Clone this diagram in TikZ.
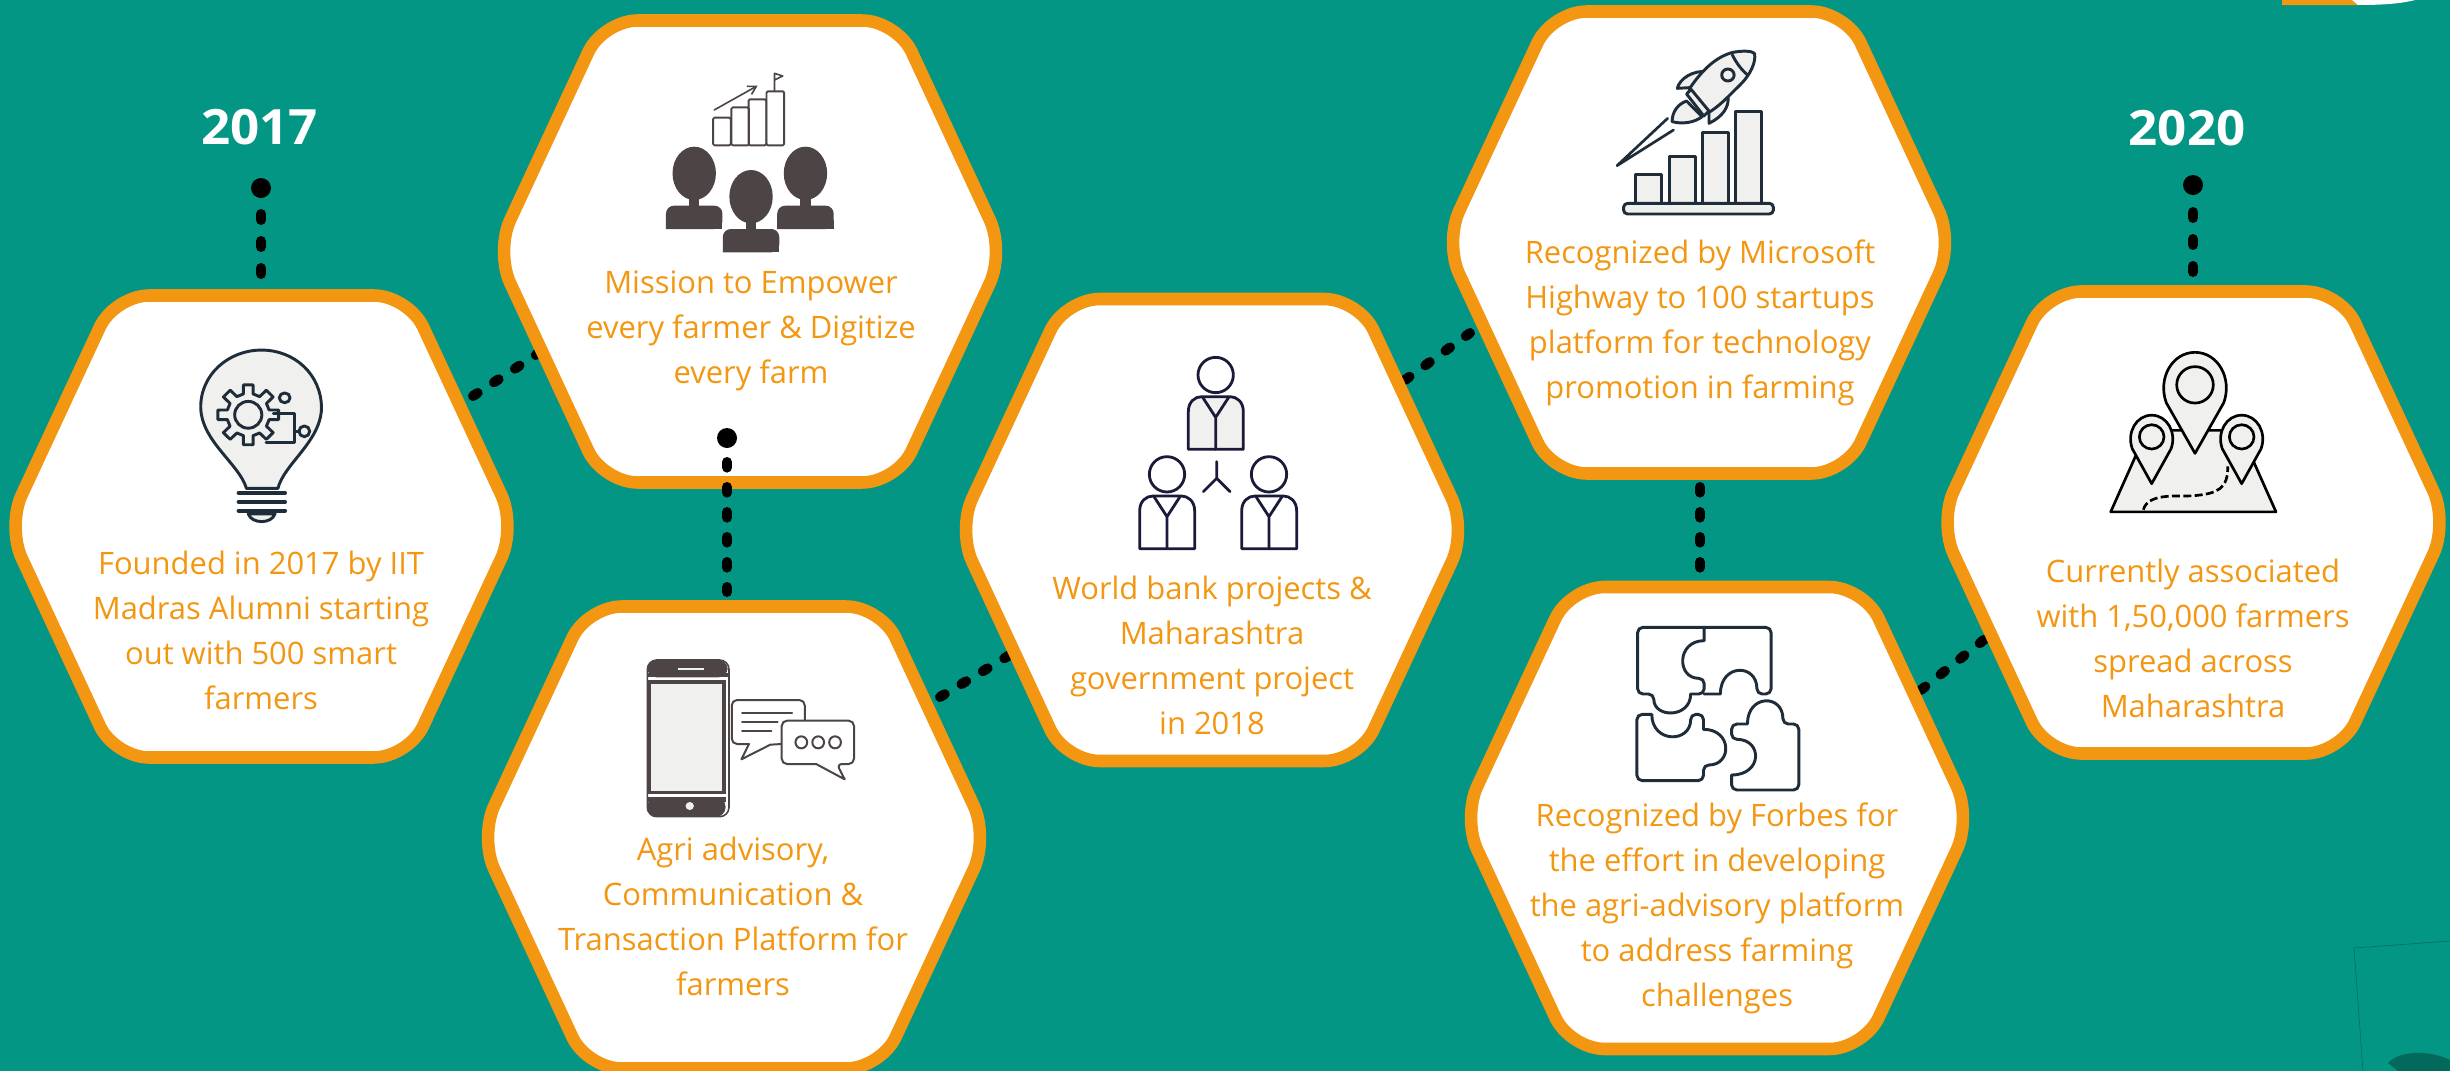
\documentclass[tikz,border=0pt]{standalone}
\usepackage{fontspec}
\usetikzlibrary{arrows.meta}
\setmainfont{Open Sans}
\definecolor{bgteal}{HTML}{039684}
\definecolor{hexor}{HTML}{F39712}
\definecolor{icgrey}{HTML}{F0F0EE}
\definecolor{icdark}{HTML}{4D4445}
\definecolor{icnavy}{HTML}{1F2D3A}
\definecolor{icblue}{HTML}{1A1A3A}
\tikzset{
  hexbox/.style={draw=hexor,fill=white,line width=9.4pt,rounded corners=26pt,line join=round},
  dashline/.style={line width=7.5pt,line cap=round,dash pattern=on 4.2pt off 14.55pt,draw=black},
  stubline/.style={line width=7.5pt,line cap=round,dash pattern=on 4.5pt off 15.75pt,draw=black},
  dotnode/.style={circle,fill=black,minimum size=15pt,inner sep=0pt},
  hextext/.style={text=hexor,align=center,font=\fontsize{23.2}{33.75}\selectfont,inner sep=0pt},
  yeartext/.style={text=white,font=\fontsize{36.5}{40}\selectfont\bfseries,inner sep=0pt,transform shape,xscale=1.05},
  icon/.style={line width=2.2pt,line join=round,line cap=round},
  zA/.style={shift={(0pt,-60pt)},x=.2679pt,y=-.3348pt},
  zB/.style={shift={(360pt,0pt)},x=.2583pt,y=-.25pt},
  zC/.style={shift={(352.5pt,-442.5pt)},x=.2583pt,y=-.25pt},
  zD/.style={shift={(712.5pt,-210pt)},x=.25pt,y=-.25pt},
  zE/.style={shift={(1072.5pt,0pt)},x=.2583pt,y=-.25pt},
  zF/.style={shift={(1087.5pt,-427.5pt)},x=.2535pt,y=-.25pt},
  zG/.style={shift={(1447.5pt,-67.5pt)},x=.25pt,y=-.3252pt},
}
\newcommand{\hexa}[3]{%
  \coordinate (#1) at (#2,#3);
  \draw[hexbox] ({#2-254.5},#3) -- ({#2-147},{#3-231}) -- ({#2+147},{#3-231}) -- ({#2+254.5},#3)
    -- ({#2+147},{#3+231}) -- ({#2-147},{#3+231}) -- cycle;}
\newcommand{\mappin}[5]{% cx cy rx ry tip
  \filldraw[icon,draw=black,fill=icgrey,line width=2pt] (#1,#5) -- ({#1-.88*#3},{#2+.55*#4})
   .. controls ({#1-1.15*#3},{#2-.2*#4}) and ({#1-.7*#3},{#2-#4}) .. (#1,{#2-#4})
   .. controls ({#1+.7*#3},{#2-#4}) and ({#1+1.15*#3},{#2-.2*#4}) .. ({#1+.88*#3},{#2+.55*#4}) -- cycle;
  \draw[icon,draw=black,line width=2pt] (#1,#2) ellipse ({.56*#3} and {.56*#4});}
\begin{document}
\begin{tikzpicture}[x=.75pt,y=-.75pt]
\useasboundingbox (0,0) rectangle (2450,1071);
\fill[bgteal] (0,0) rectangle (2450,1071);
% corner remnants
\fill[hexor] (2282,0) -- (2352,0) -- (2358,5) -- (2282,5) -- cycle;
\fill[white] (2352,0) -- (2415,0) .. controls (2400,4) and (2380,5) .. (2358,5) -- cycle;
\draw[black!25!bgteal,line width=.5pt] (2450,941) -- (2354,948) -- (2363,1071);
\fill[black!30!bgteal] (2388,1063) .. controls (2400,1050) and (2430,1050) .. (2450,1060) -- (2450,1071) -- (2398,1071) -- cycle;

% connectors under the hexagons
\node[dotnode] (d1) at (261,188) {};
\coordinate (d1e) at (261,214);
\coordinate (h1t) at (261,275);
\draw[stubline] (d1e) -- (h1t);
\node[dotnode] (d7) at (2193,185) {};
\coordinate (d7e) at (2193,212);
\coordinate (h7t) at (2193,272);
\draw[stubline] (d7e) -- (h7t);
\coordinate (c12a) at (473,396); \coordinate (c12b) at (545,349);
\draw[dashline] (c12a) -- (c12b);
\coordinate (c34a) at (940,697); \coordinate (c34b) at (1018,650);
\draw[dashline] (c34a) -- (c34b);
\coordinate (c45a) at (1405,380); \coordinate (c45b) at (1470,333);
\draw[dashline] (c45a) -- (c45b);
\coordinate (c67a) at (1921,690); \coordinate (c67b) at (1995,631);
\draw[dashline] (c67a) -- (c67b);
\coordinate (c56a) at (1700,487); \coordinate (c56b) at (1700,570);
\draw[dashline] (c56a) -- (c56b);

% hexagons
\hexa{h1}{261.5}{526.5}
\hexa{h2}{750}{251.5}
\hexa{h3}{734}{837.5}
\hexa{h4}{1212}{530}
\hexa{h5}{1699}{242.5}
\hexa{h6}{1717}{818}
\hexa{h7}{2193.5}{522.5}

% connector on top of hexagon 2
\node[dotnode] (d2) at (727,438) {};
\coordinate (c23a) at (727,462); \coordinate (c23b) at (727,592);
\draw[dashline] (c23a) -- (c23b);

% years
\node[yeartext] (y17) at (259.5,127) {2017};
\node[yeartext] (y20) at (2187,128) {2020};

% texts
\node[hextext] (t1) at (261,630) {Founded in 2017 by IIT\\Madras Alumni starting\\out with 500 smart\\farmers};
\node[hextext] (t2) at (751,331) {Mission to Empower\\every farmer \& Digitize\\every farm};
\node[hextext] (t3) at (733,916) {Agri advisory,\\Communication \&\\Transaction Platform for\\farmers};
\node[hextext] (t4) at (1212,655) {World bank projects \&\\Maharashtra\\government project\\in 2018};
\node[hextext] (t5) at (1700,323) {Recognized by Microsoft\\Highway to 100 startups\\platform for technology\\promotion in farming};
\node[hextext] (t6) at (1717,908) {Recognized by Forbes for\\the effort in developing\\the agri-advisory platform\\to address farming\\challenges};
\node[hextext] (t7) at (2193,638) {Currently associated\\with 1,50,000 farmers\\spread across\\Maharashtra};

% icon 1: bulb
\begin{scope}[zA]
\filldraw[icon,draw=icnavy,fill=icgrey] (690,915) .. controls (670,860) and (565,810) .. (562,735)
  .. controls (560,660) and (640,605) .. (732,605) .. controls (825,605) and (900,660) .. (900,735)
  .. controls (898,810) and (795,860) .. (778,915) -- cycle;
\foreach \yy in {925,945,965}
  \draw[icon,draw=icnavy,line width=3pt] (668,\yy) -- (798,\yy);
\filldraw[icon,draw=icnavy,fill=icgrey] (695,972) .. controls (705,995) and (760,995) .. (770,972) -- cycle;
\begin{scope}[shift={(695,750)}]
\filldraw[icon,draw=icnavy,fill=icgrey] (-13:60 and 48) \foreach \a in {0,45,...,315}{
  -- (\a-13:60 and 48) -- (\a-9:86 and 68) -- (\a+9:86 and 68) -- (\a+13:60 and 48)} -- cycle;
\draw[icon,draw=icnavy] (0,0) ellipse (38 and 30);
\end{scope}
\draw[icon,draw=icnavy] (765,748) -- (825,748) -- (825,812) -- (745,812);
\draw[icon,draw=icnavy] (825,787) -- (838,787);
\draw[icon,draw=icnavy] (852,787) ellipse (15 and 12);
\draw[icon,draw=icnavy] (797,712) ellipse (15 and 11);
\end{scope}

% icon 2: team and chart
\begin{scope}[zB]
\foreach \bx/\bt in {677/353,730/322,780/298,832/274}
  \draw[icon,draw=icdark,line width=1.4pt,rounded corners=1pt] (\bx,436) rectangle ({\bx+51},\bt);
\draw[icon,draw=icdark,line width=1.2pt,-{Straight Barb[length=6pt,width=7pt]}] (680,330) -- (806,257);
\draw[icon,draw=icdark,line width=1.2pt] (855,274) -- (855,220) -- (879,228) -- (855,240);
\foreach \cx/\cy in {622/520,945/520,787/590}{
  \fill[icdark] (\cx,\cy) ellipse (63 and 80);
  \fill[icdark] ({\cx-15},{\cy+60}) rectangle ({\cx+15},{\cy+100});
  \fill[icdark,rounded corners=6pt] ({\cx-82},{\cy+167}) -- ({\cx-82},{\cy+97}) -- ({\cx+82},{\cy+97}) -- ({\cx+82},{\cy+167}) [sharp corners] -- cycle;
  \fill[icdark] ({\cx-82},{\cy+140}) rectangle ({\cx+82},{\cy+167});
}
\end{scope}

% icon 3: phone and bubbles
\begin{scope}[zC]
\draw[icon,draw=icdark,line width=1.2pt,rounded corners=7pt] (515,210) rectangle (752,680);
\fill[icdark,rounded corners=7pt] (515,262) -- (515,210) -- (748,210) -- (748,262) -- cycle;
\fill[icdark] (515,250) rectangle (748,262);
\fill[icdark,rounded corners=7pt] (515,622) -- (515,680) -- (742,680) -- (742,622) -- cycle;
\fill[icdark] (515,622) rectangle (742,635);
\draw[icgrey,line width=1.6pt] (603,238) -- (678,238);
\fill[icgrey] (638,648) circle (12);
\filldraw[draw=icdark,fill=icgrey,line width=2.6pt] (520,276) rectangle (738,607);
\draw[icon,draw=icdark,line width=1.5pt,fill=white,rounded corners=4pt] (972,395) -- (972,330) -- (760,330) -- (760,462) -- (810,462);
\draw[icon,draw=icdark,line width=1.5pt] (810,462) -- (788,508) -- (872,464) -- (905,462);
\draw[icon,draw=icdark,line width=1.5pt] (790,370) -- (935,370) (790,397) -- (893,397) (790,423) -- (875,423);
\filldraw[icon,draw=icdark,line width=1.5pt,fill=white,rounded corners=4pt] (905,392) -- (1115,392) -- (1115,522) -- (1065,522) [sharp corners] -- (1088,568) -- (1005,522) [rounded corners=4pt] -- (905,522) -- cycle;
\foreach \cx in {962,1011,1060}
  \draw[icon,draw=icdark,line width=1.5pt] (\cx,457) ellipse (17 and 18);
\end{scope}

% icon 4: three persons
\begin{scope}[zD]
\foreach \dx/\dy/\fc in {0/0/icgrey,-146/298/white,160/298/white}{
\begin{scope}[shift={(\dx,\dy)}]
\draw[icon,draw=icblue,line width=2.1pt] (797,285) circle (53);
\filldraw[icon,draw=icblue,fill=\fc,line width=2.1pt] (715,508) -- (715,395) .. controls (715,365) and (735,350) .. (755,350) -- (840,350) .. controls (860,350) and (880,365) .. (880,395) -- (880,508) -- cycle;
\draw[icon,draw=icblue,line width=2.1pt] (758,352) -- (797,412) -- (836,352) (797,412) -- (797,508);
\end{scope}}
\draw[icon,draw=icblue,line width=2.1pt] (800,545) -- (800,595) -- (760,635) (800,595) -- (840,635);
\end{scope}

% icon 5: rocket and bars
\begin{scope}[zE]
\foreach \bx/\bt in {597/523,695/470,790/397,886/335}
  \filldraw[icon,draw=icnavy,fill=icgrey] (\bx,610) -- (\bx,\bt) -- ({\bx+76},\bt) -- ({\bx+76},610);
\filldraw[icon,draw=icnavy,fill=icgrey,rounded corners=3pt] (562,610) rectangle (997,642);
\draw[icon,draw=icnavy,line width=2pt] (690,355) -- (543,497) -- (707,390);
\filldraw[icon,draw=icnavy,fill=icgrey] (718,265) .. controls (725,235) and (765,210) .. (805,215) -- (770,262) -- cycle;
\filldraw[icon,draw=icnavy,fill=icgrey] (810,370) .. controls (850,350) and (870,320) .. (865,288) -- (810,335) -- cycle;
\filldraw[icon,draw=icnavy,fill=icgrey] (703,365) .. controls (703,335) and (720,312) .. (745,303) -- (790,350) .. controls (765,370) and (730,372) .. (703,365) -- cycle;
\filldraw[icon,draw=icnavy,fill=icgrey] (752,268) .. controls (790,210) and (830,170) .. (880,157) .. controls (905,152) and (935,152) .. (942,160) .. controls (948,185) and (930,225) .. (900,255) .. controls (870,285) and (840,320) .. (805,340) -- cycle;
\filldraw[icon,draw=icnavy,fill=icgrey] (745,282) -- (758,268) -- (810,333) -- (795,348) -- cycle;
\draw[icon,draw=icnavy] (878,165) .. controls (890,190) and (905,210) .. (922,225);
\draw[icon,draw=icnavy] (865,225) circle (18);
\end{scope}

% icon 6: puzzle
\begin{scope}[zF]
\draw[icon,draw=icnavy,rounded corners=4pt] (752,172) -- (555,172) -- (555,372) -- (603,372)
  [sharp corners] .. controls (603,445) and (712,445) .. (712,372) [rounded corners=4pt] -- (752,372) -- (752,325)
  [sharp corners] .. controls (670,325) and (670,212) .. (752,212) -- cycle;
\draw[icon,draw=icnavy,rounded corners=4pt] (752,172) -- (950,172) -- (950,372) -- (908,372)
  [sharp corners] .. controls (908,280) and (800,280) .. (800,372) -- (752,372);
\draw[icon,draw=icnavy,rounded corners=4pt] (597,433) -- (553,433) -- (553,632) -- (750,632) -- (750,585)
  [sharp corners] .. controls (835,585) and (835,478) .. (750,478) [rounded corners=4pt] -- (750,433) -- (712,433)
  [sharp corners] .. controls (712,520) and (597,520) .. (597,433);
\draw[icon,draw=icnavy,rounded corners=4pt] (880,462) -- (833,462) -- (833,508)
  [sharp corners] .. controls (925,508) and (925,615) .. (833,615) [rounded corners=4pt] -- (833,660) -- (1032,660) -- (1032,462) -- (985,462)
  [sharp corners] .. controls (985,372) and (880,372) .. (880,462);
\end{scope}

% icon 7: map and pins
\begin{scope}[zG]
\filldraw[icon,draw=black,fill=icgrey,line width=2pt] (542,973) -- (625,830) -- (700,785) -- (880,785) -- (955,830) -- (1038,973) -- cycle;
\draw[icon,draw=black,line width=2pt,line cap=butt,dash pattern=on 6pt off 2.5pt] (640,968) .. controls (655,925) and (760,940) .. (800,935) .. controls (860,930) and (895,920) .. (893,868);
\mappin{795}{680}{98}{75}{838}
\mappin{665}{800}{66}{50}{908}
\mappin{935}{800}{66}{50}{908}
\end{scope}
\end{tikzpicture}
\end{document}
